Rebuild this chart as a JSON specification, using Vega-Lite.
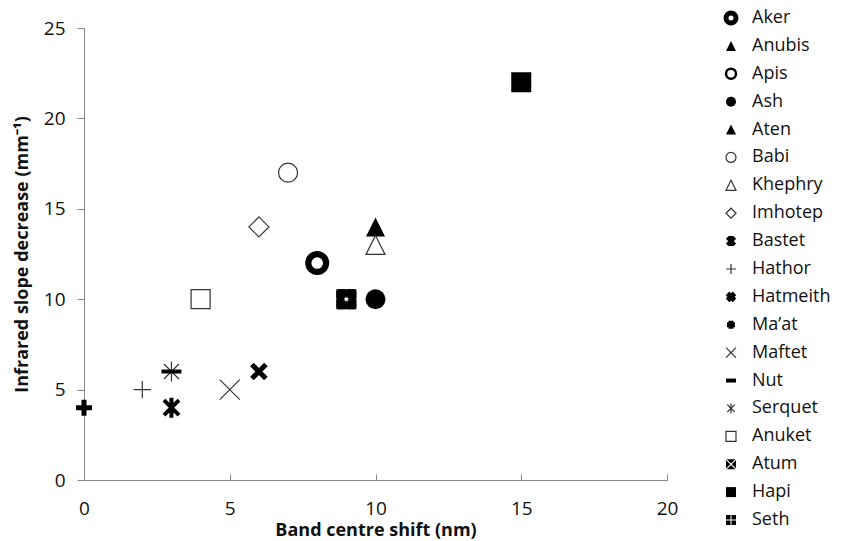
{
  "$schema": "https://vega.github.io/schema/vega-lite/v6.json",
  "autosize": {"type": "pad"},
  "padding": {"left": 13, "top": 3, "right": 0, "bottom": 0},
  "background": "white",
  "spacing": 38,
  "config": {
    "view": {"stroke": null},
    "font": "Open Sans",
    "axis": {"grid": false, "domainColor": "#868686", "tickColor": "#868686", "labelColor": "#111", "titleColor": "#111", "labelFont": "Open Sans", "titleFont": "Open Sans", "labelFontSize": 19, "titleFontSize": 18, "titleFontWeight": "bold"}
  },
  "datasets": {
    "pts": [
      {"name": "Atum", "x": 9, "y": 10},
      {"name": "Apis", "x": 8, "y": 12},
      {"name": "Aten", "x": 10, "y": 14},
      {"name": "Aker", "x": 8, "y": 12},
      {"name": "Anubis", "x": 10, "y": 14},
      {"name": "Ash", "x": 10, "y": 10},
      {"name": "Babi", "x": 7, "y": 17},
      {"name": "Khephry", "x": 10, "y": 13},
      {"name": "Imhotep", "x": 6, "y": 14},
      {"name": "Bastet", "x": 3, "y": 4},
      {"name": "Hathor", "x": 2, "y": 5},
      {"name": "Hatmeith", "x": 6, "y": 6},
      {"name": "Ma’at", "x": 0, "y": 4},
      {"name": "Maftet", "x": 5, "y": 5},
      {"name": "Serquet", "x": 3, "y": 6},
      {"name": "Nut", "x": 3, "y": 6},
      {"name": "Anuket", "x": 4, "y": 10},
      {"name": "Hapi", "x": 15, "y": 22},
      {"name": "Seth", "x": 9, "y": 10}
    ]
  },
  "data": {"name": "pts"},
  "resolve": {"scale": {"x": "independent", "y": "independent"}},
  "hconcat": [
    {
      "width": 583,
      "height": 452,
      "mark": {"type": "point", "opacity": 1, "strokeCap": "butt"},
      "encoding": {
        "x": {"field": "x", "type": "quantitative", "scale": {"domain": [0, 20], "nice": false, "zero": false}, "axis": {"values": [0, 5, 10, 15, 20], "title": "Band centre shift (nm)", "tickSize": -6, "labelPadding": 25, "labelFlush": false, "titlePadding": 3}},
        "y": {"field": "y", "type": "quantitative", "scale": {"domain": [0, 25], "nice": false}, "axis": {"values": [0, 5, 10, 15, 20, 25], "title": "Infrared slope decrease (mm⁻¹)", "tickSize": 7, "labelPadding": 12, "titlePadding": 12, "labelFlush": false}},
        "shape": {"field": "name", "type": "nominal", "legend": null, "scale": {
          "domain": ["Aker", "Anubis", "Apis", "Ash", "Aten", "Babi", "Khephry", "Imhotep", "Bastet", "Hathor", "Hatmeith", "Ma’at", "Maftet", "Nut", "Serquet", "Anuket", "Atum", "Hapi", "Seth"],
          "range": ["circle", "M0,-1L1,1L-1,1Z", "circle", "circle", "M0,-1L1,1L-1,1Z", "circle", "M0,-1L1,1L-1,1Z", "M0,-1L1,0L0,1L-1,0Z", "M-0.75,-0.75L0.75,0.75M0.75,-0.75L-0.75,0.75M0,-1L0,1", "M-1,0L1,0M0,-1L0,1", "M-0.7,-0.7L0.7,0.7M0.7,-0.7L-0.7,0.7", "M-0.8,0L0.8,0M0,-0.8L0,0.8", "M-1,-1L1,1M1,-1L-1,1", "M-1,0L1,0", "M-0.75,-0.75L0.75,0.75M0.75,-0.75L-0.75,0.75M0,-1L0,1", "M-1,-1H1V1H-1Z", "M-0.85,-1H0.85L0,-0.15Z M1,-0.85V0.85L0.15,0Z M0.85,1H-0.85L0,0.15Z M-1,0.85V-0.85L-0.15,0Z", "M-1,-1H1V1H-1Z", "M-1,-1H-0.1V-0.1H-1Z M0.1,-1H1V-0.1H0.1Z M0.1,0.1H1V1H0.1Z M-1,0.1H-0.1V1H-1Z"]
        }},
        "fill": {"field": "name", "type": "nominal", "legend": null, "scale": {
          "domain": ["Aker", "Anubis", "Apis", "Ash", "Aten", "Babi", "Khephry", "Imhotep", "Bastet", "Hathor", "Hatmeith", "Ma’at", "Maftet", "Nut", "Serquet", "Anuket", "Atum", "Hapi", "Seth"],
          "range": ["transparent", "black", "transparent", "black", "black", "transparent", "transparent", "transparent", "transparent", "transparent", "transparent", "transparent", "transparent", "transparent", "transparent", "transparent", "black", "black", "black"]
        }},
        "stroke": {"field": "name", "type": "nominal", "legend": null, "scale": {
          "domain": ["Aker", "Anubis", "Apis", "Ash", "Aten", "Babi", "Khephry", "Imhotep", "Bastet", "Hathor", "Hatmeith", "Ma’at", "Maftet", "Nut", "Serquet", "Anuket", "Atum", "Hapi", "Seth"],
          "range": ["black", "black", "black", "black", "black", "#333", "#333", "#333", "black", "#333", "black", "black", "#333", "black", "#333", "#333", "black", "black", "black"]
        }},
        "strokeWidth": {"field": "name", "type": "nominal", "legend": null, "scale": {"type": "ordinal",
          "domain": ["Aker", "Anubis", "Apis", "Ash", "Aten", "Babi", "Khephry", "Imhotep", "Bastet", "Hathor", "Hatmeith", "Ma’at", "Maftet", "Nut", "Serquet", "Anuket", "Atum", "Hapi", "Seth"],
          "range": [5, 0, 2.5, 0, 0, 1.2, 1.2, 1.2, 4, 1.2, 5, 5, 1.2, 4, 1.2, 1.2, 0, 0, 0]
        }},
        "size": {"field": "name", "type": "nominal", "legend": null, "scale": {"type": "ordinal",
          "domain": ["Aker", "Anubis", "Apis", "Ash", "Aten", "Babi", "Khephry", "Imhotep", "Bastet", "Hathor", "Hatmeith", "Ma’at", "Maftet", "Nut", "Serquet", "Anuket", "Atum", "Hapi", "Seth"],
          "range": [361, 361, 200, 400, 200, 361, 361, 400, 400, 300, 400, 400, 400, 400, 400, 361, 400, 400, 400]
        }}
      }
    },
    {
      "width": 10,
      "height": 502,
      "encoding": {
        "y": {"field": "name", "type": "nominal", "axis": null, "scale": {"type": "point", "padding": 0,
          "domain": ["Aker", "Anubis", "Apis", "Ash", "Aten", "Babi", "Khephry", "Imhotep", "Bastet", "Hathor", "Hatmeith", "Ma’at", "Maftet", "Nut", "Serquet", "Anuket", "Atum", "Hapi", "Seth"]}}
      },
      "layer": [
        {
          "mark": {"type": "point", "opacity": 1, "size": 100, "yOffset": -10, "strokeCap": "butt"},
          "encoding": {
            "shape": {"field": "name", "type": "nominal", "legend": null, "scale": {
              "domain": ["Aker", "Anubis", "Apis", "Ash", "Aten", "Babi", "Khephry", "Imhotep", "Bastet", "Hathor", "Hatmeith", "Ma’at", "Maftet", "Nut", "Serquet", "Anuket", "Atum", "Hapi", "Seth"],
              "range": ["circle", "M0,-1L1,1L-1,1Z", "circle", "circle", "M0,-1L1,1L-1,1Z", "circle", "M0,-1L1,1L-1,1Z", "M0,-1L1,0L0,1L-1,0Z", "M-0.75,-0.75L0.75,0.75M0.75,-0.75L-0.75,0.75M0,-1L0,1", "M-1,0L1,0M0,-1L0,1", "M-0.7,-0.7L0.7,0.7M0.7,-0.7L-0.7,0.7", "M-0.8,0L0.8,0M0,-0.8L0,0.8", "M-1,-1L1,1M1,-1L-1,1", "M-1,0L1,0", "M-0.75,-0.75L0.75,0.75M0.75,-0.75L-0.75,0.75M0,-1L0,1", "M-1,-1H1V1H-1Z", "M-0.85,-1H0.85L0,-0.15Z M1,-0.85V0.85L0.15,0Z M0.85,1H-0.85L0,0.15Z M-1,0.85V-0.85L-0.15,0Z", "M-1,-1H1V1H-1Z", "M-1,-1H-0.1V-0.1H-1Z M0.1,-1H1V-0.1H0.1Z M0.1,0.1H1V1H0.1Z M-1,0.1H-0.1V1H-1Z"]
            }},
            "fill": {"field": "name", "type": "nominal", "legend": null, "scale": {
              "domain": ["Aker", "Anubis", "Apis", "Ash", "Aten", "Babi", "Khephry", "Imhotep", "Bastet", "Hathor", "Hatmeith", "Ma’at", "Maftet", "Nut", "Serquet", "Anuket", "Atum", "Hapi", "Seth"],
              "range": ["transparent", "black", "transparent", "black", "black", "transparent", "transparent", "transparent", "transparent", "transparent", "transparent", "transparent", "transparent", "transparent", "transparent", "transparent", "black", "black", "black"]
            }},
            "stroke": {"field": "name", "type": "nominal", "legend": null, "scale": {
              "domain": ["Aker", "Anubis", "Apis", "Ash", "Aten", "Babi", "Khephry", "Imhotep", "Bastet", "Hathor", "Hatmeith", "Ma’at", "Maftet", "Nut", "Serquet", "Anuket", "Atum", "Hapi", "Seth"],
              "range": ["black", "black", "black", "black", "black", "#333", "#333", "#333", "black", "#333", "black", "black", "#333", "black", "#333", "#333", "black", "black", "black"]
            }},
            "strokeWidth": {"field": "name", "type": "nominal", "legend": null, "scale": {"type": "ordinal",
              "domain": ["Aker", "Anubis", "Apis", "Ash", "Aten", "Babi", "Khephry", "Imhotep", "Bastet", "Hathor", "Hatmeith", "Ma’at", "Maftet", "Nut", "Serquet", "Anuket", "Atum", "Hapi", "Seth"],
              "range": [3, 0, 1.6, 0, 0, 1.1, 1.1, 1.1, 1.8, 1.1, 2.2, 2.4, 1.1, 2.5, 1.1, 1.1, 0, 0, 0]
            }}
          }
        },
        {
          "mark": {"type": "text", "align": "left", "baseline": "middle", "dx": 21, "yOffset": -10, "fontSize": 18, "font": "Open Sans", "color": "#111"},
          "encoding": {"text": {"field": "name", "type": "nominal"}}
        }
      ]
    }
  ]
}
